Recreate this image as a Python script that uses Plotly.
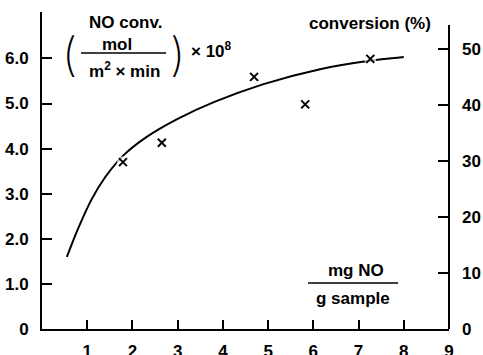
import plotly.graph_objects as go

# Fitted curve: NO conversion rate (mol / m^2 min, x 1e8) vs NO loading (mg NO / g sample)
curve_load = [0.55, 0.8, 1.1, 1.4, 1.8, 2.3, 3.0, 3.8, 4.9, 6.15, 7.2, 8.0]
curve_rate = [1.60, 2.23, 2.88, 3.37, 3.85, 4.25, 4.66, 5.03, 5.43, 5.76, 5.94, 6.03]

# Measured points
meas_load = [1.79, 2.65, 4.69, 5.82, 7.26]
meas_rate = [3.70, 4.13, 5.59, 4.98, 5.99]

# Axis ticks
x_ticks = [1, 2, 3, 4, 5, 6, 7, 8, 9]
x_labels = ["1", "2", "3", "4", "5", "6", "7", "8", "9"]
left_ticks = [0, 1, 2, 3, 4, 5, 6]
left_labels = ["0", "1.0", "2.0", "3.0", "4.0", "5.0", "6.0"]
right_ticks = [0, 10, 20, 30, 40, 50]
right_labels = ["0", "10", "20", "30", "40", "50"]

W, H = 483, 355
L, R, T, B = 42, 449, 12, 329
FONT = dict(family="Liberation Sans, Arial, sans-serif", size=17, color="black", weight="bold")


def px(xp):
    return (xp - L) / (R - L)


def py(yp):
    return (B - yp) / (B - T)


fig = go.Figure()

fig.add_trace(go.Scatter(
    x=curve_load, y=curve_rate, mode="lines",
    line=dict(color="black", width=2, shape="spline", smoothing=0.8),
    hoverinfo="skip", showlegend=False,
))
# white halo so the curve breaks where a cross sits on it
fig.add_trace(go.Scatter(
    x=meas_load, y=meas_rate, mode="markers",
    marker=dict(symbol="circle", size=[12, 0, 0, 0, 12], color="white", line=dict(width=0)),
    hoverinfo="skip", showlegend=False,
))
fig.add_trace(go.Scatter(
    x=meas_load, y=meas_rate, mode="markers",
    marker=dict(symbol="x-thin", size=8, line=dict(color="black", width=2)),
    showlegend=False,
))
# invisible trace to activate the right-hand conversion axis
fig.add_trace(go.Scatter(x=[None], y=[None], yaxis="y2", showlegend=False))

annotations = [
    dict(x=px(125), y=py(22), text="NO conv."),
    dict(x=px(117), y=py(44), text="mol"),
    dict(x=px(124), y=py(70), text="m<sup>2</sup> × min"),
    dict(x=px(211), y=py(50), text="× 10<sup>8</sup>"),
    dict(x=px(370), y=py(24), text="conversion (%)"),
    dict(x=px(356), y=py(270), text="mg NO"),
    dict(x=px(353), y=py(298), text="g sample"),
]
for a in annotations:
    a.update(xref="paper", yref="paper", showarrow=False, xanchor="center", yanchor="middle", font=FONT)

for xc, ch in [(69, "("), (177, ")")]:
    annotations.append(dict(
        x=px(xc), y=py(54), xref="paper", yref="paper", text=ch, showarrow=False,
        xanchor="center", yanchor="middle",
        font=dict(family="Inter, DejaVu Sans, sans-serif", size=46, color="black", weight=200),
    ))

shapes = [
    # fraction bars
    dict(type="line", xref="paper", yref="paper", x0=px(81), x1=px(166), y0=py(53), y1=py(53),
         line=dict(color="black", width=1.5)),
    dict(type="line", xref="paper", yref="paper", x0=px(308), x1=px(398), y0=py(283), y1=py(283),
         line=dict(color="black", width=1.5)),
    # right axis line (shorter than the left one)
    dict(type="line", xref="paper", yref="paper", x0=1, x1=1, y0=0, y1=py(25),
         line=dict(color="black", width=2)),
]

fig.update_layout(
    width=W, height=H,
    margin=dict(l=L, r=W - R, t=T, b=H - B, autoexpand=False),
    paper_bgcolor="white", plot_bgcolor="white",
    font=FONT,
    annotations=annotations,
    shapes=shapes,
    xaxis=dict(
        range=[0, 9], tickvals=x_ticks, ticktext=x_labels, automargin=False,
        showgrid=False, zeroline=False, showline=True, linecolor="black", linewidth=2,
        ticks="inside", ticklen=9, tickwidth=2, tickcolor="black",
        tickfont=FONT, ticklabelstandoff=6,
    ),
    yaxis=dict(
        range=[0, (B - T) / 45.1], tickvals=left_ticks, ticktext=left_labels, automargin=False,
        showgrid=False, zeroline=False, showline=True, linecolor="black", linewidth=2,
        ticks="inside", ticklen=10, tickwidth=2, tickcolor="black",
        tickfont=FONT, ticklabelstandoff=8,
    ),
    yaxis2=dict(
        range=[0, (B - T) / 5.6], tickvals=right_ticks, ticktext=right_labels, automargin=False,
        overlaying="y", side="right",
        showgrid=False, zeroline=False, showline=False,
        ticks="inside", ticklen=11, tickwidth=2, tickcolor="black",
        tickfont=FONT, ticklabelstandoff=12,
    ),
)

fig.write_html("out.html")
